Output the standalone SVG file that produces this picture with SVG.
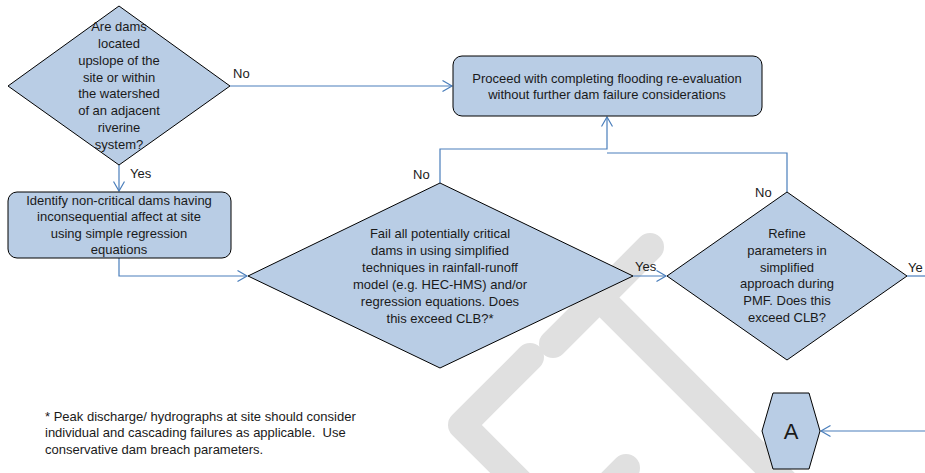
<svg xmlns="http://www.w3.org/2000/svg" width="925" height="473" viewBox="0 0 925 473">
  <style>
    .shape { fill: #b9cde5; stroke: #000000; stroke-width: 1; }
    .conn { fill: none; stroke: #4a7ebb; stroke-width: 1.2; }
    .wm { fill: none; stroke: #e0e0e0; stroke-width: 28; stroke-linecap: round; stroke-linejoin: round; }
    text { font-family: "Liberation Sans", Arial, sans-serif; font-size: 13px; fill: #1a1a1a; }
    .c { text-anchor: middle; }
    .big { font-size: 22px; }
    .pre { white-space: pre; }
  </style>
  <defs>
    <marker id="arr" markerWidth="12" markerHeight="12" refX="10" refY="6" orient="auto" markerUnits="userSpaceOnUse">
      <path d="M0.5,0.5 L10,6 L0.5,11.5" fill="none" stroke="#4a7ebb" stroke-width="1.2"/>
    </marker>
  </defs>
  <rect width="925" height="473" fill="#ffffff"/>

  <g id="watermark">
    <path class="wm" d="M650,247 L553,344"/>
    <path class="wm" d="M606,304 L800,498"/>
    <path class="wm" d="M530,357 L462,425 L540,503"/>
    <path class="wm" d="M626,468 L590,504"/>
  </g>

  <g id="connectors">
    <path class="conn" d="M230,86 H452" marker-end="url(#arr)"/>
    <path class="conn" d="M119,165 V191" marker-end="url(#arr)"/>
    <path class="conn" d="M119,258 V276 H247" marker-end="url(#arr)"/>
    <path class="conn" d="M633,276 H666" marker-end="url(#arr)"/>
    <path class="conn" d="M440,183 V149 H607 V117" marker-end="url(#arr)"/>
    <path class="conn" d="M787,192 V153 H607"/>
    <path class="conn" d="M907,276 H925"/>
    <path class="conn" d="M925,431 H821" marker-end="url(#arr)"/>
    <text x="233" y="78">No</text>
    <text x="130" y="178">Yes</text>
    <text x="413" y="179">No</text>
    <text x="755" y="197">No</text>
    <text x="635" y="271">Yes</text>
    <text x="908" y="272">Ye</text>
  </g>

  <g id="q-dams">
    <polygon class="shape" points="119,6 230,86 119,165 8,86"/>
    <text class="c" x="119" y="31">Are dams</text>
    <text class="c" x="119" y="48">located</text>
    <text class="c" x="119" y="65">upslope of the</text>
    <text class="c" x="119" y="82">site or within</text>
    <text class="c" x="119" y="98">the watershed</text>
    <text class="c" x="119" y="115">of an adjacent</text>
    <text class="c" x="119" y="132">riverine</text>
    <text class="c" x="119" y="149">system?</text>
  </g>

  <g id="proceed">
    <rect class="shape" x="453" y="56" width="309" height="60" rx="9" ry="9"/>
    <text class="c" x="607" y="83">Proceed with completing flooding re-evaluation</text>
    <text class="c" x="607" y="99">without further dam failure considerations</text>
  </g>

  <g id="identify">
    <rect class="shape" x="8" y="192" width="223" height="66" rx="9" ry="9"/>
    <text class="c" x="119" y="205">Identify non-critical dams having</text>
    <text class="c" x="119" y="221">inconsequential affect at site</text>
    <text class="c" x="119" y="238">using simple regression</text>
    <text class="c" x="119" y="254">equations</text>
  </g>

  <g id="q-fail">
    <polygon class="shape" points="440,183 633,276 440,368 248,276"/>
    <text class="c" x="440" y="238">Fail all potentially critical</text>
    <text class="c" x="440" y="255">dams in using simplified</text>
    <text class="c" x="440" y="272">techniques in rainfall-runoff</text>
    <text class="c" x="440" y="289">model (e.g. HEC-HMS) and/or</text>
    <text class="c" x="440" y="306">regression equations. Does</text>
    <text class="c" x="440" y="323">this exceed CLB?*</text>
  </g>

  <g id="q-refine">
    <polygon class="shape" points="787,192 907,276 787,360 667,276"/>
    <text class="c" x="787" y="238">Refine</text>
    <text class="c" x="787" y="255">parameters in</text>
    <text class="c" x="787" y="272">simplified</text>
    <text class="c" x="787" y="288">approach during</text>
    <text class="c" x="787" y="305">PMF. Does this</text>
    <text class="c" x="787" y="322">exceed CLB?</text>
  </g>

  <g id="connector-a">
    <polygon class="shape" points="773,393 809,393 820,431 809,469 773,469 762,431"/>
    <text class="c big" x="791" y="439">A</text>
  </g>

  <g id="footnote">
    <text class="pre" x="45" y="421">* Peak discharge/ hydrographs at site should consider</text>
    <text class="pre" x="45" y="437">individual and cascading failures as applicable.  Use</text>
    <text class="pre" x="45" y="454">conservative dam breach parameters.</text>
  </g>
</svg>
